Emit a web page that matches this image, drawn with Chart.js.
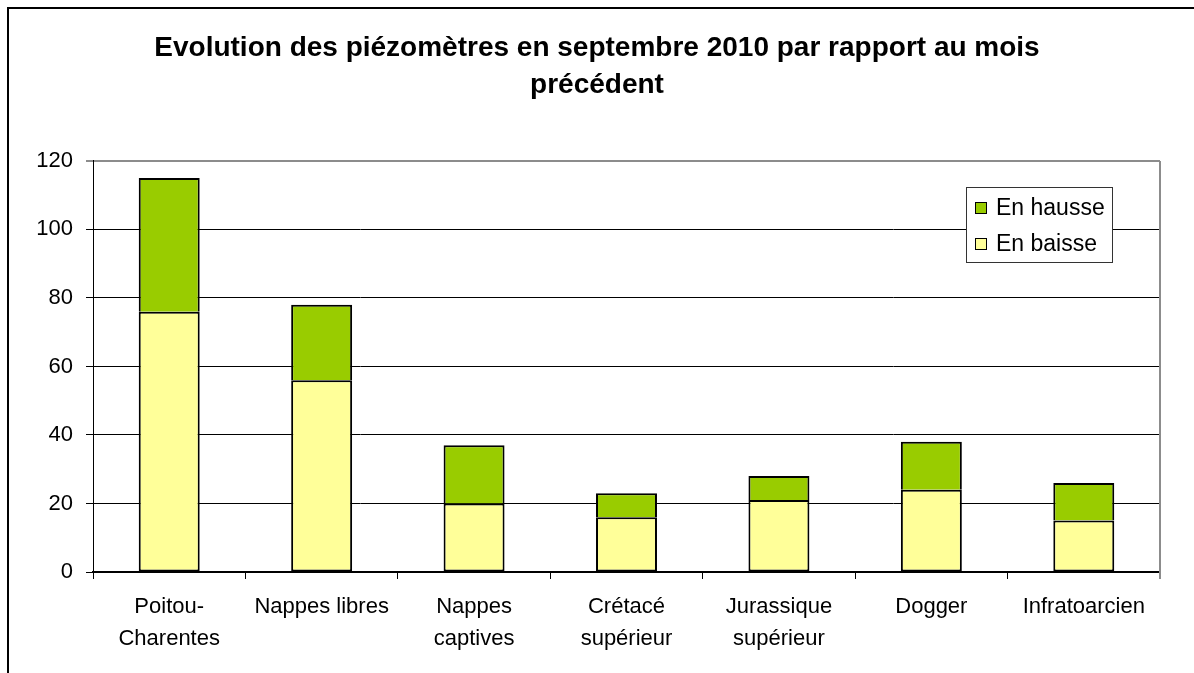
<!DOCTYPE html>
<html>
<head>
<meta charset="utf-8">
<script src="https://cdn.jsdelivr.net/npm/chart.js@4.4.1/dist/chart.umd.min.js"></script>
<style>
    html, body { margin: 0; padding: 0; background: #fff; }
    #wrap { width: 1194px; height: 673px; }
</style>
</head>
<body>
<div id="wrap"><canvas id="chart" width="1194" height="673"></canvas></div>
<script>
const categories = [
    ['Poitou-', 'Charentes'],
    'Nappes libres',
    ['Nappes', 'captives'],
    ['Crétacé', 'supérieur'],
    ['Jurassique', 'supérieur'],
    'Dogger',
    'Infratoarcien',
];
const enBaisse = [76, 56, 20, 16, 21, 24, 15];
const enHausse = [39, 22, 17, 7, 7, 14, 11];
const titleLines = ['Evolution des piézomètres en septembre 2010 par rapport au mois', 'précédent'];

const FONT = 'Arial, "Liberation Sans", sans-serif';

// white page + outer frame (left and top edges are visible only)
const framePlugin = {
    id: 'frame',
    beforeDraw(chart) {
        const ctx = chart.ctx;
        ctx.save();
        ctx.fillStyle = '#fff';
        ctx.fillRect(0, 0, chart.width, chart.height);
        ctx.strokeStyle = '#000';
        ctx.lineWidth = 2;
        ctx.beginPath();
        ctx.moveTo(8, chart.height);
        ctx.lineTo(8, 8);
        ctx.lineTo(chart.width, 8);
        ctx.stroke();
        ctx.restore();
    },
    afterDatasetsDraw(chart) {
        // grey right edge of the plot area
        const { ctx, chartArea: a } = chart;
        ctx.save();
        ctx.strokeStyle = '#8c8c8c';
        ctx.lineWidth = 2;
        ctx.beginPath();
        ctx.moveTo(a.right, a.top);
        ctx.lineTo(a.right, a.bottom + 7);
        ctx.stroke();
        ctx.restore();
    },
};

// boxed legend inside the plot, top entry = last dataset
const boxLegend = {
    id: 'boxLegend',
    afterDraw(chart, args, opts) {
        const ctx = chart.ctx;
        const x = opts.x, y = opts.y, w = opts.w, h = opts.h;
        ctx.save();
        ctx.fillStyle = '#fff';
        ctx.fillRect(x, y, w, h);
        ctx.strokeStyle = '#333';
        ctx.lineWidth = 1;
        ctx.strokeRect(x + 0.5, y + 0.5, w, h);
        const sets = chart.data.datasets.slice().reverse();
        ctx.font = '23px ' + FONT;
        ctx.textBaseline = 'middle';
        ctx.textAlign = 'left';
        sets.forEach((ds, i) => {
            const cy = y + 21 + i * 36;
            ctx.fillStyle = ds.backgroundColor;
            ctx.fillRect(x + 9, cy - 5, 11, 11);
            ctx.strokeStyle = '#000';
            ctx.strokeRect(x + 9.5, cy - 5.5, 11, 11);
            ctx.fillStyle = '#000';
            ctx.fillText(ds.label, x + 30, cy + 1);
        });
        ctx.restore();
    },
};

new Chart(document.getElementById('chart'), {
    type: 'bar',
    data: {
        labels: categories,
        datasets: [
            {
                label: 'En baisse',
                data: enBaisse,
                backgroundColor: '#FFFF99',
                borderColor: '#000',
                borderWidth: 2,
                borderSkipped: false,
            },
            {
                label: 'En hausse',
                data: enHausse,
                backgroundColor: '#99CC00',
                borderColor: '#000',
                borderWidth: { top: 2, left: 2, right: 2, bottom: 0 },
                borderSkipped: false,
            },
        ],
    },
    options: {
        responsive: false,
        animation: false,
        layout: { padding: { top: 0, left: 34, right: 34, bottom: 0 } },
        datasets: { bar: { categoryPercentage: 1, barPercentage: 0.4 } },
        scales: {
            x: {
                stacked: true,
                afterFit: s => { s.height = 101; },
                border: { color: '#000', width: 2 },
                grid: { offset: true, drawOnChartArea: false, drawTicks: true, tickLength: 7, color: '#000' },
                ticks: { color: '#000', padding: 12, font: { family: FONT, size: 22, lineHeight: 1.45 }, maxRotation: 0, autoSkip: false },
            },
            y: {
                stacked: true,
                min: 0,
                max: 120,
                afterFit: s => { s.width = 59; },
                border: { color: '#000', width: 1 },
                grid: {
                    color: c => c.tick && c.tick.value === 120 ? '#8c8c8c' : '#000',
                    lineWidth: c => c.tick && c.tick.value === 120 ? 2 : 1,
                    tickLength: 7,
                },
                ticks: { stepSize: 20, color: '#000', padding: 13, font: { family: FONT, size: 22 } },
            },
        },
        plugins: {
            legend: { display: false },
            tooltip: { enabled: false },
            title: {
                display: true,
                text: titleLines,
                color: '#000',
                font: { family: FONT, size: 28, weight: 'bold', lineHeight: 1.32 },
                padding: { top: 30, bottom: 57 },
            },
            boxLegend: { x: 966, y: 187, w: 146, h: 75 },
        },
    },
    plugins: [framePlugin, boxLegend],
});
</script>
</body>
</html>
